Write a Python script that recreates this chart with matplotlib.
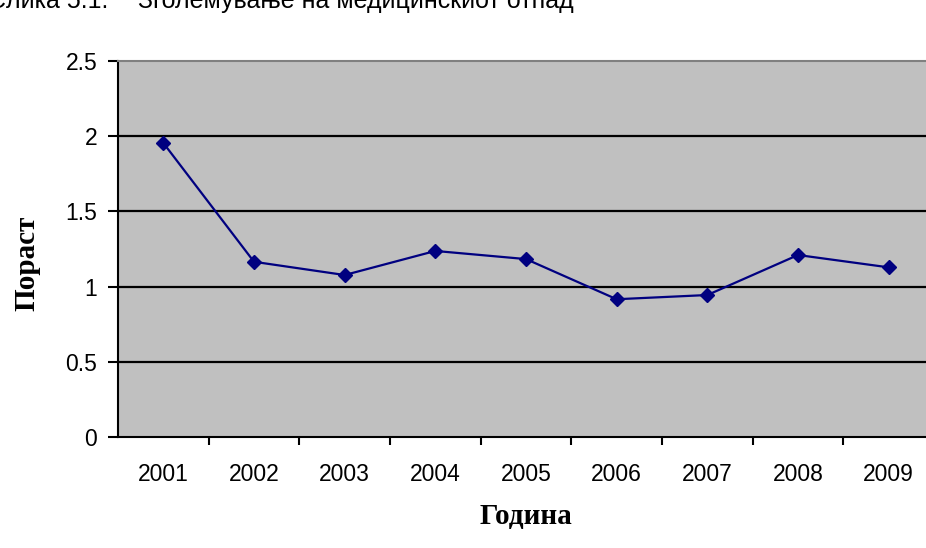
import matplotlib
matplotlib.use("Agg")
import matplotlib.pyplot as plt
import numpy as np

years = ["2001", "2002", "2003", "2004", "2005", "2006", "2007", "2008", "2009"]
growth = [1.955, 1.165, 1.077, 1.237, 1.183, 0.916, 0.944, 1.21, 1.128]
yticks = [0, 0.5, 1, 1.5, 2, 2.5]
ytick_labels = ["0", "0.5", "1", "1.5", "2", "2.5"]

W, H = 926, 548
fig = plt.figure(figsize=(W / 100, H / 100), dpi=100)
left, right, top, bottom = 118, 934, 61, 437
ax = fig.add_axes([left / W, 1 - bottom / H, (right - left) / W, (bottom - top) / H])
ax.set_facecolor("#C0C0C0")

x = np.arange(len(years))
ax.set_xlim(-0.5, len(years) - 0.5)
ax.set_ylim(0, 2.5)

for yv in yticks[1:-1]:
    ax.axhline(yv, color="black", lw=1.6, zorder=1)

ax.plot(x, growth, color="#000080", lw=1.6, marker="D", markersize=7,
        markerfacecolor="#000080", markeredgecolor="#000080", zorder=3)

ax.set_yticks(yticks)
ax.set_yticklabels(ytick_labels, fontfamily="Liberation Sans", fontsize=16.5)
ax.set_xticks(x)
ax.set_xticklabels(years, fontfamily="Liberation Sans", fontsize=16.5)
ax.tick_params(axis="x", which="major", length=0, pad=19)
ax.set_xticks(np.arange(0.5, len(years) - 0.5, 1), minor=True)
ax.tick_params(axis="x", which="minor", length=6, width=1.5, direction="out")
ax.tick_params(axis="y", length=7, width=1.5, direction="out", pad=8)

for s in ["left", "bottom"]:
    ax.spines[s].set_color("black")
    ax.spines[s].set_linewidth(1.5)
ax.spines["top"].set_color("#808080")
ax.spines["top"].set_linewidth(1.5)
ax.spines["right"].set_visible(False)

ax.set_xlabel("Година", fontfamily="Liberation Serif", fontweight="bold", fontsize=21, labelpad=12)
fig.text(27 / W, 1 - 263 / H, "Пораст", fontfamily="Liberation Serif", fontweight="bold",
         fontsize=21, rotation=90, ha="center", va="center")

fig.text(108 / W, 1 - 8 / H, "Слика 5.1.",
         fontfamily="Liberation Sans", fontsize=18, va="baseline", ha="right")
fig.text(138 / W, 1 - 8 / H, "Зголемување на медицинскиот отпад",
         fontfamily="Liberation Sans", fontsize=18, va="baseline", ha="left")

fig.savefig("out.png", dpi=100)
